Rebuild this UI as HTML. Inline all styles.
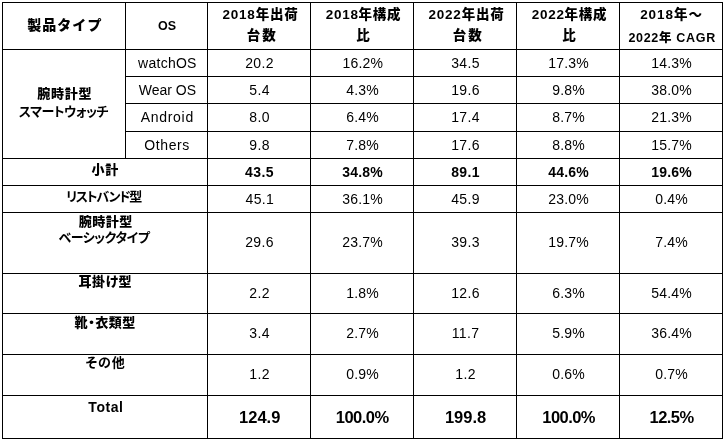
<!DOCTYPE html>
<html lang="ja"><head><meta charset="utf-8"><title>table</title>
<style>
html,body{margin:0;padding:0;background:#fff;}
body{width:725px;height:441px;position:relative;overflow:hidden;font-family:"Liberation Sans","Noto Sans CJK JP",sans-serif;color:#000;}
.l{position:absolute;background:#000;}
.t{position:absolute;text-align:center;white-space:nowrap;font-size:14px;line-height:20px;height:20px;}
.h{font-weight:900;font-size:13.5px;}
.j{font-family:"Noto Sans CJK JP",sans-serif;font-weight:900;font-size:13.5px;letter-spacing:1.3px;}
.k{font-family:"Noto Sans CJK JP",sans-serif;font-weight:900;font-size:13px;font-feature-settings:"palt";}
.k7{font-weight:700;}
.kn{font-feature-settings:normal !important;}
.n{font-size:14px;letter-spacing:.4px;}
.nb{font-size:14px;font-weight:bold;letter-spacing:.4px;}
.tb{font-size:16.5px;font-weight:bold;}
</style></head><body>
<div class="l" style="left:2px;top:2px;width:721px;height:1px"></div>
<div class="l" style="left:2px;top:49px;width:721px;height:1px"></div>
<div class="l" style="left:125px;top:76px;width:598px;height:1px"></div>
<div class="l" style="left:125px;top:103px;width:598px;height:1px"></div>
<div class="l" style="left:125px;top:131px;width:598px;height:1px"></div>
<div class="l" style="left:2px;top:158px;width:721px;height:1px"></div>
<div class="l" style="left:2px;top:185px;width:721px;height:1px"></div>
<div class="l" style="left:2px;top:212px;width:721px;height:1px"></div>
<div class="l" style="left:2px;top:273px;width:721px;height:1px"></div>
<div class="l" style="left:2px;top:313px;width:721px;height:1px"></div>
<div class="l" style="left:2px;top:354px;width:721px;height:1px"></div>
<div class="l" style="left:2px;top:395px;width:721px;height:1px"></div>
<div class="l" style="left:2px;top:438px;width:721px;height:1px"></div>
<div class="l" style="left:2px;top:2px;width:1px;height:437px"></div>
<div class="l" style="left:125px;top:2px;width:1px;height:157px"></div>
<div class="l" style="left:207px;top:2px;width:1px;height:437px"></div>
<div class="l" style="left:310px;top:2px;width:1px;height:437px"></div>
<div class="l" style="left:413px;top:2px;width:1px;height:437px"></div>
<div class="l" style="left:516px;top:2px;width:1px;height:437px"></div>
<div class="l" style="left:619px;top:2px;width:1px;height:437px"></div>
<div class="l" style="left:722px;top:2px;width:1px;height:437px"></div>
<div class="t k kn" style="left:3.8px;width:122px;top:14px;letter-spacing:1.06px;font-size:14px;">製品タイプ</div>
<div class="t h" style="left:126.5px;width:81px;top:16px;font-size:12.5px;">OS</div>
<div class="t h" style="left:209.5px;width:102px;top:5px;letter-spacing:0.79px;">2018年出荷</div>
<div class="t h" style="left:211.2px;width:102px;top:26px;letter-spacing:1.96px;">台数</div>
<div class="t h" style="left:312.5px;width:102px;top:5px;letter-spacing:0.73px;">2018年構成</div>
<div class="t h" style="left:311.9px;width:102px;top:26px;">比</div>
<div class="t h" style="left:415.5px;width:102px;top:5px;letter-spacing:0.79px;">2022年出荷</div>
<div class="t h" style="left:417.2px;width:102px;top:26px;letter-spacing:1.96px;">台数</div>
<div class="t h" style="left:518.5px;width:102px;top:5px;letter-spacing:0.73px;">2022年構成</div>
<div class="t h" style="left:517.9px;width:102px;top:26px;">比</div>
<div class="t h" style="left:620.5px;width:102px;top:5px;letter-spacing:0.95px;">2018年～</div>
<div class="t h" style="left:621.2px;width:102px;top:28px;letter-spacing:0.7px;font-size:12.5px;">2022年 CAGR</div>
<div class="t n" style="left:126.9px;width:81px;top:53px;letter-spacing:0.27px;">watchOS</div>
<div class="t n" style="left:208.6px;width:102px;top:53px;">20.2</div>
<div class="t n" style="left:311.8px;width:102px;top:53px;letter-spacing:0.15px;">16.2%</div>
<div class="t n" style="left:414.6px;width:102px;top:53px;">34.5</div>
<div class="t n" style="left:517.6px;width:102px;top:53px;letter-spacing:0.15px;">17.3%</div>
<div class="t n" style="left:620.6px;width:102px;top:53px;letter-spacing:0.15px;">14.3%</div>
<div class="t n" style="left:126.9px;width:81px;top:80px;letter-spacing:0;">Wear OS</div>
<div class="t n" style="left:208.6px;width:102px;top:80px;">5.4</div>
<div class="t n" style="left:311.6px;width:102px;top:80px;letter-spacing:0.15px;">4.3%</div>
<div class="t n" style="left:414.6px;width:102px;top:80px;">19.6</div>
<div class="t n" style="left:517.6px;width:102px;top:80px;letter-spacing:0.15px;">9.8%</div>
<div class="t n" style="left:620.6px;width:102px;top:80px;letter-spacing:0.15px;">38.0%</div>
<div class="t n" style="left:126.8px;width:81px;top:107px;letter-spacing:0.71px;">Android</div>
<div class="t n" style="left:208.6px;width:102px;top:107px;">8.0</div>
<div class="t n" style="left:311.6px;width:102px;top:107px;letter-spacing:0.15px;">6.4%</div>
<div class="t n" style="left:414.6px;width:102px;top:107px;">17.4</div>
<div class="t n" style="left:517.6px;width:102px;top:107px;letter-spacing:0.15px;">8.7%</div>
<div class="t n" style="left:620.6px;width:102px;top:107px;letter-spacing:0.15px;">21.3%</div>
<div class="t n" style="left:126.6px;width:81px;top:135px;letter-spacing:0.61px;">Others</div>
<div class="t n" style="left:208.6px;width:102px;top:135px;">9.8</div>
<div class="t n" style="left:311.6px;width:102px;top:135px;letter-spacing:0.15px;">7.8%</div>
<div class="t n" style="left:414.6px;width:102px;top:135px;">17.6</div>
<div class="t n" style="left:517.6px;width:102px;top:135px;letter-spacing:0.15px;">8.8%</div>
<div class="t n" style="left:620.6px;width:102px;top:135px;letter-spacing:0.15px;">15.7%</div>
<div class="t nb" style="left:208.5px;width:102px;top:162px;">43.5</div>
<div class="t nb" style="left:311.6px;width:102px;top:162px;letter-spacing:0.15px;">34.8%</div>
<div class="t nb" style="left:414.6px;width:102px;top:162px;">89.1</div>
<div class="t nb" style="left:517.6px;width:102px;top:162px;letter-spacing:0.15px;">44.6%</div>
<div class="t nb" style="left:620.6px;width:102px;top:162px;letter-spacing:0.15px;">19.6%</div>
<div class="t n" style="left:208.9px;width:102px;top:189px;">45.1</div>
<div class="t n" style="left:311.6px;width:102px;top:189px;letter-spacing:0.15px;">36.1%</div>
<div class="t n" style="left:414.6px;width:102px;top:189px;">45.9</div>
<div class="t n" style="left:517.6px;width:102px;top:189px;letter-spacing:0.15px;">23.0%</div>
<div class="t n" style="left:620.6px;width:102px;top:189px;letter-spacing:0.15px;">0.4%</div>
<div class="t n" style="left:208.6px;width:102px;top:232px;">29.6</div>
<div class="t n" style="left:311.6px;width:102px;top:232px;letter-spacing:0.15px;">23.7%</div>
<div class="t n" style="left:414.6px;width:102px;top:232px;">39.3</div>
<div class="t n" style="left:517.6px;width:102px;top:232px;letter-spacing:0.15px;">19.7%</div>
<div class="t n" style="left:620.6px;width:102px;top:232px;letter-spacing:0.15px;">7.4%</div>
<div class="t n" style="left:208.6px;width:102px;top:283px;">2.2</div>
<div class="t n" style="left:311.6px;width:102px;top:283px;letter-spacing:0.15px;">1.8%</div>
<div class="t n" style="left:414.6px;width:102px;top:283px;">12.6</div>
<div class="t n" style="left:517.6px;width:102px;top:283px;letter-spacing:0.15px;">6.3%</div>
<div class="t n" style="left:620.6px;width:102px;top:283px;letter-spacing:0.15px;">54.4%</div>
<div class="t n" style="left:208.6px;width:102px;top:323px;">3.4</div>
<div class="t n" style="left:311.6px;width:102px;top:323px;letter-spacing:0.15px;">2.7%</div>
<div class="t n" style="left:414.6px;width:102px;top:323px;">11.7</div>
<div class="t n" style="left:517.6px;width:102px;top:323px;letter-spacing:0.15px;">5.9%</div>
<div class="t n" style="left:620.6px;width:102px;top:323px;letter-spacing:0.15px;">36.4%</div>
<div class="t n" style="left:208.6px;width:102px;top:364px;">1.2</div>
<div class="t n" style="left:311.6px;width:102px;top:364px;letter-spacing:0.15px;">0.9%</div>
<div class="t n" style="left:414.6px;width:102px;top:364px;">1.2</div>
<div class="t n" style="left:517.6px;width:102px;top:364px;letter-spacing:0.15px;">0.6%</div>
<div class="t n" style="left:620.6px;width:102px;top:364px;letter-spacing:0.15px;">0.7%</div>
<div class="t tb" style="left:208.7px;width:102px;top:407px;">124.9</div>
<div class="t tb" style="left:311.2px;width:102px;top:407px;letter-spacing:-0.55px;">100.0%</div>
<div class="t tb" style="left:414.6px;width:102px;top:407px;">199.8</div>
<div class="t tb" style="left:517.6px;width:102px;top:407px;letter-spacing:-0.55px;">100.0%</div>
<div class="t tb" style="left:620.6px;width:102px;top:407px;letter-spacing:-0.55px;">12.5%</div>
<div class="t k" style="left:3.8px;width:122px;top:83px;letter-spacing:0.72px;">腕時計型</div>
<div class="t k k7" style="left:2.5px;width:122px;top:101px;letter-spacing:-0.56px;">スマートウォッチ</div>
<div class="t k" style="left:3.3px;width:204px;top:159px;letter-spacing:0.69px;">小計</div>
<div class="t k k7" style="left:1.5px;width:204px;top:186px;letter-spacing:-1.28px;">リストバンド型</div>
<div class="t k" style="left:3.8px;width:204px;top:211px;letter-spacing:0.5px;">腕時計型</div>
<div class="t k k7" style="left:2.0px;width:204px;top:227px;letter-spacing:-0.52px;">ベーシックタイプ</div>
<div class="t k" style="left:3.3px;width:204px;top:271px;letter-spacing:0.55px;">耳掛け型</div>
<div class="t k" style="left:3.2px;width:204px;top:312px;letter-spacing:0.53px;">靴・衣類型</div>
<div class="t k k7" style="left:3.6px;width:204px;top:352px;letter-spacing:0.96px;">その他</div>
<div class="t nb" style="left:3.9px;width:204px;top:397px;letter-spacing:0.53px;">Total</div>
</body></html>
